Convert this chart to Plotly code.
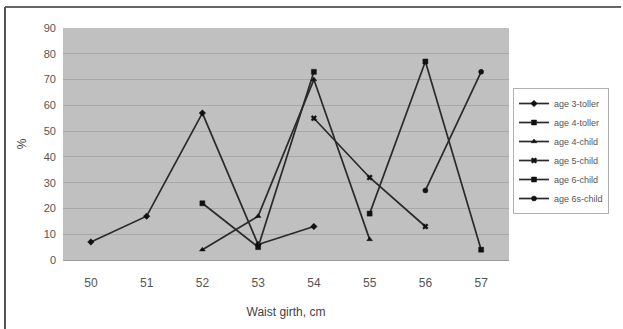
import plotly.graph_objects as go

# Waist girth categories (cm)
girth = [50, 51, 52, 53, 54, 55, 56, 57]

# Share of each age group (%) by waist girth
s_age3_toller = {50: 7, 51: 17, 52: 57, 53: 6, 54: 13}
s_age4_toller = {52: 22, 53: 5, 54: 73}
s_age4_child = {52: 4, 53: 17, 54: 70, 55: 8}
s_age5_child = {54: 55, 55: 32, 56: 13}
s_age6_child = {55: 18, 56: 77, 57: 4}
s_age6s_child = {56: 27, 57: 73}

series_names = ["age 3-toller", "age 4-toller", "age 4-child",
                "age 5-child", "age 6-child", "age 6s-child"]
series_data = [s_age3_toller, s_age4_toller, s_age4_child,
               s_age5_child, s_age6_child, s_age6s_child]
symbols = ["diamond", "square", "triangle-up", "x", "square", "circle"]

W, H = 623, 329
L, R, T, B = 63, 114, 28, 69
pw, ph = W - L - R, H - T - B

fig = go.Figure()
for name, data, sym in zip(series_names, series_data, symbols):
    xs = [g for g in girth if g in data]
    ys = [data[g] for g in xs]
    fig.add_trace(go.Scatter(
        x=xs, y=ys, name=name, mode="lines+markers",
        line=dict(color="#2a2a2a", width=1.7),
        marker=dict(symbol=sym, size=5, color="#111111",
                    line=dict(width=0.5, color="#111111")),
    ))

font = "Liberation Sans, Arial, sans-serif"
fig.update_layout(
    width=W, height=H,
    margin=dict(l=L, r=R, t=T, b=B),
    paper_bgcolor="white",
    plot_bgcolor="#c0c0c0",
    font=dict(family=font, size=11, color="#444444"),
    showlegend=True,
    legend=dict(
        x=(513 - L) / pw, y=1 - (88 - T) / ph,
        xanchor="left", yanchor="top",
        bgcolor="white", bordercolor="#b0b0b0", borderwidth=1,
        font=dict(size=9, color="#555555"),
        tracegroupgap=0, itemwidth=30,
    ),
    xaxis=dict(
        range=[49.5, 57.5], tickvals=girth, ticktext=[str(g) for g in girth],
        showgrid=False, zeroline=False, ticks="", ticklabelstandoff=12,
        showline=True, linecolor="#9a9a9a", linewidth=1,
        title=dict(text="Waist girth, cm", standoff=18,
                   font=dict(size=12, color="#444444")),
        tickfont=dict(size=12, color="#555555"),
    ),
    yaxis=dict(
        range=[0, 90], dtick=10,
        showgrid=True, gridcolor="#a8a8a8", gridwidth=1,
        zeroline=False, ticks="", ticklabelstandoff=6,
        title=dict(text="%", standoff=14,
                   font=dict(size=12, color="#444444")),
        tickfont=dict(size=11, color="#555555"),
    ),
    shapes=[
        # frame: top and left edges
        dict(type="line", xref="paper", yref="paper",
             x0=(5 - L) / pw, x1=(W - 2 - L) / pw,
             y0=1 + (T - 7) / ph, y1=1 + (T - 7) / ph,
             line=dict(color="#666666", width=2)),
        dict(type="line", xref="paper", yref="paper",
             x0=(5 - L) / pw, x1=(5 - L) / pw,
             y0=1 + (T - 7) / ph, y1=-(H - T - ph) / ph - 0.01,
             line=dict(color="#555555", width=2)),
    ],
)

fig.write_html("out.html")
